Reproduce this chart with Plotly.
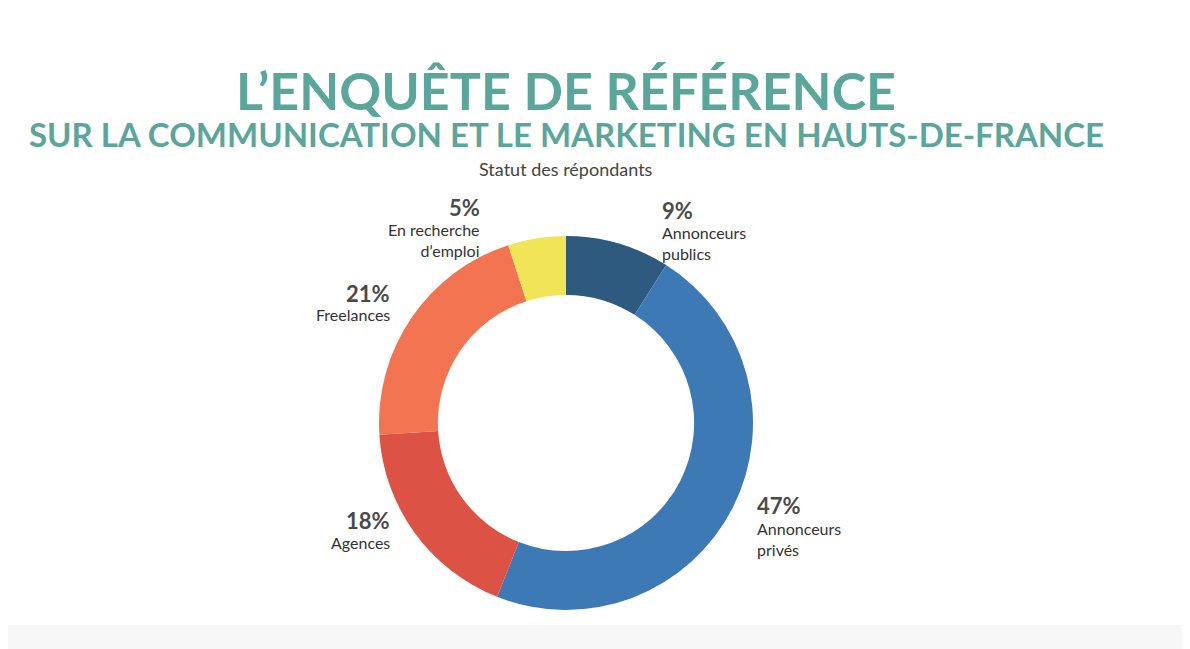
import plotly.graph_objects as go

labels = ["Annonceurs publics", "Annonceurs privés", "Agences", "Freelances", "En recherche d'emploi"]
values = [9, 47, 18, 21, 5]
colors = ["#2E5A80", "#3D79B4", "#DC5345", "#F27451", "#F0E457"]
label_text = ["Annonceurs<br>publics", "Annonceurs<br>privés", "Agences", "Freelances", "En recherche<br>d’emploi"]
# label anchor positions in pixels (x, y_pct_center, y_name_top, xanchor)
pos = [(660, 210, 221, "left"), (755, 505, 517, "left"), (392, 520, 531, "right"),
       (392, 293, 303, "right"), (482, 207, 218, "right")]

W, H = 1190, 649
OX, OY = 8, 8  # page body margin offset
def px(x): return (x - OX) / W
def py(y): return 1 - (y - OY) / H

fig = go.Figure(go.Pie(
    labels=labels, values=values, hole=0.685, sort=False, direction="clockwise",
    rotation=0, marker=dict(colors=colors, line=dict(width=0)), textinfo="none",
    hoverinfo="label+percent", showlegend=False,
    domain=dict(x=[px(566-187), px(566+187)], y=[py(610), py(236)])))

ann = []
for (x, yp, yn, xa), v, t in zip(pos, values, label_text):
    ann.append(dict(x=px(x), y=py(yp), xref="paper", yref="paper", text=f"<b>{v}%</b>",
                    showarrow=False, xanchor=xa, yanchor="middle",
                    font=dict(family="Lato", size=22, color="#4A4A4A")))
    ann.append(dict(x=px(x), y=py(yn), xref="paper", yref="paper", text=t, align=xa,
                    showarrow=False, xanchor=xa, yanchor="top",
                    font=dict(family="Lato", size=16, color="#333333")))
ann += [
    dict(x=px(566), y=py(57), xref="paper", yref="paper", text="<b>L’ENQUÊTE DE RÉFÉRENCE</b>",
         showarrow=False, font=dict(family="Lato", size=52, color="#5BA69B")),
    dict(x=px(566), y=py(112), xref="paper", yref="paper",
         text="<b>SUR LA COMMUNICATION ET LE MARKETING EN HAUTS-DE-FRANCE</b>",
         showarrow=False, font=dict(family="Lato", size=33, color="#5BA69B")),
    dict(x=px(566), y=py(156), xref="paper", yref="paper", text="Statut des répondants",
         showarrow=False, font=dict(family="Lato", size=18, color="#444444")),
]
fig.update_layout(width=W, height=H, margin=dict(l=0, r=0, t=0, b=0),
                  paper_bgcolor="white", plot_bgcolor="white", annotations=ann,
                  shapes=[dict(type="rect", xref="paper", yref="paper", x0=0, x1=1, y0=0,
                               y1=py(625), fillcolor="#F7F7F7", line=dict(width=0), layer="below")])
fig.write_html("out.html")
